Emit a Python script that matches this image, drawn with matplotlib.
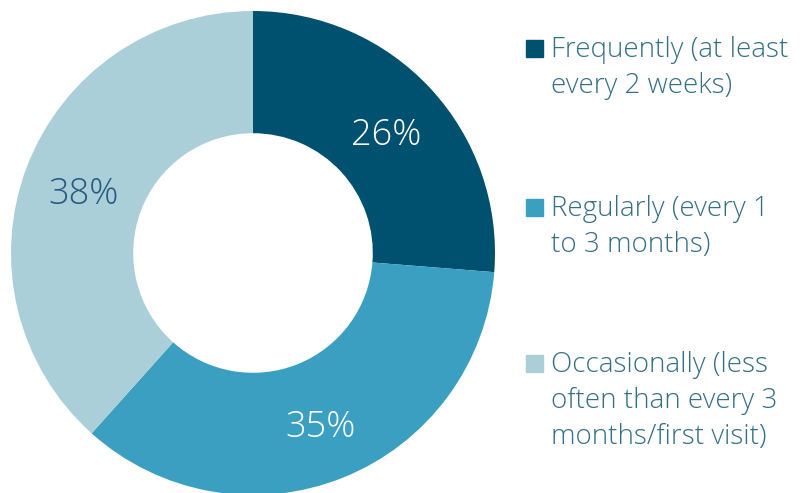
import matplotlib
matplotlib.use("Agg")
import matplotlib.pyplot as plt
from matplotlib.patches import Rectangle
import numpy as np

plt.rcParams['font.family'] = ['Open Sans', 'DejaVu Sans']

labels = [["Frequently (at least", "every 2 weeks)"],
          ["Regularly (every 1", "to 3 months)"],
          ["Occasionally (less", "often than every 3", "months/first visit)"]]
shares = [26, 35, 38]
colors = ["#00506f", "#3a9fc0", "#aacfd9"]
pct_colors = ["white", "white", "#275a80"]

W, H = 803, 493
fig = plt.figure(figsize=(W / 100, H / 100), dpi=100)

# donut: centre (253, 253) px, outer radius 242 px
cx, cy, r = 253, 253, 242
ax = fig.add_axes([(cx - r) / W, (H - cy - r) / H, 2 * r / W, 2 * r / H])
wedges, _ = ax.pie(shares, colors=colors, startangle=90, counterclock=False,
                   radius=1.0, wedgeprops=dict(width=0.505, linewidth=0))
ax.set_xlim(-1, 1)
ax.set_ylim(-1, 1)
ax.set_aspect("equal")
ax.axis("off")

# percentage labels in the middle of each ring segment
for w, v, c in zip(wedges, shares, pct_colors):
    ang = np.deg2rad((w.theta1 + w.theta2) / 2)
    rr = 0.75
    ax.text(rr * np.cos(ang), rr * np.sin(ang) - 0.025, f"{v}%", ha="center",
            va="center", fontsize=26, color=c, fontweight="light")

# legend drawn by hand: square + one text per line
text_color = "#336f85"
first_baselines = [57, 216, 372]
line_step = 36
for lines, col, yb in zip(labels, colors, first_baselines):
    fig.patches.append(Rectangle((526 / W, (H - yb) / H), 17 / W, 17 / H,
                                 transform=fig.transFigure, color=col))
    for i, s in enumerate(lines):
        fig.text(551 / W, (H - yb - i * line_step) / H, s, ha="left",
                 va="baseline", fontsize=20, color=text_color,
                 fontweight="light")

fig.savefig("out.png", dpi=100)
